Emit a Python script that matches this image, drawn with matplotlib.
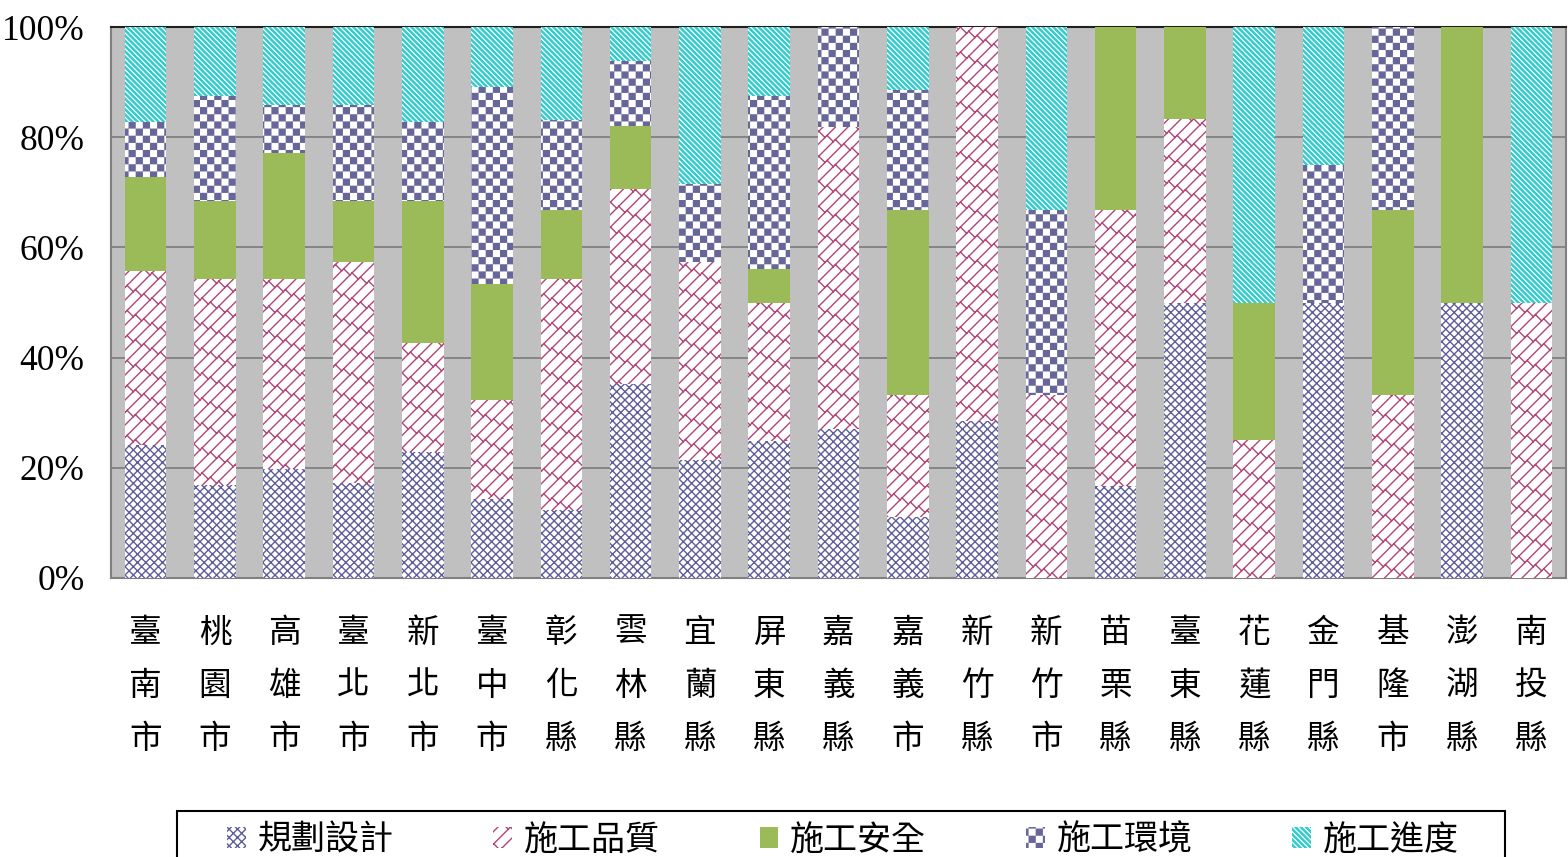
import warnings
warnings.filterwarnings("ignore")
import numpy as np
import matplotlib
matplotlib.use("Agg")
import matplotlib.pyplot as plt
import matplotlib.hatch as mhatch
from matplotlib.path import Path
from matplotlib.patches import Patch, Rectangle

# ---------------- data (percent) ----------------
counties = ["臺南市", "桃園市", "高雄市", "臺北市", "新北市", "臺中市", "彰化縣",
            "雲林縣", "宜蘭縣", "屏東縣", "嘉義縣", "嘉義市", "新竹縣", "新竹市",
            "苗栗縣", "臺東縣", "花蓮縣", "金門縣", "基隆市", "澎湖縣", "南投縣"]
series_names = ["規劃設計", "施工品質", "施工安全", "施工環境", "施工進度"]
planning = [24.1, 16.8, 19.8, 17.3, 22.9, 14.3, 12.3, 35.2, 21.4, 24.9, 27.0,
            11.1, 28.5, 0, 16.7, 50.0, 0, 50.0, 0, 50.0, 0]
quality = [31.7, 37.5, 34.5, 40.1, 19.7, 18.0, 42.0, 35.4, 36.0, 25.0, 54.9,
           22.1, 71.5, 33.3, 50.0, 33.3, 25.0, 0, 33.3, 0, 50.0]
safety = [17.0, 14.1, 22.8, 11.0, 25.8, 21.1, 12.5, 11.4, 0, 6.2, 0,
          33.6, 0, 0, 33.3, 16.7, 25.0, 0, 33.4, 50.0, 0]
environment = [10.0, 19.1, 8.7, 17.4, 14.4, 35.7, 16.3, 11.8, 14.1, 31.4, 18.1,
               21.8, 0, 33.4, 0, 0, 0, 25.0, 33.3, 0, 0]
progress = [17.2, 12.5, 14.2, 14.2, 17.2, 10.9, 16.9, 6.2, 28.5, 12.5, 0,
            11.4, 0, 33.3, 0, 0, 50.0, 25.0, 0, 0, 50.0]
yticks = [0, 20, 40, 60, 80, 100]
ytick_labels = ["0%", "20%", "40%", "60%", "80%", "100%"]


# ---------------- custom hatch patterns ----------------
class CheckerHatch(mhatch.HatchPatternBase):
    def __init__(self, hatch, density):
        self.n = 14 if 'c' in hatch else 0
        if self.n:
            self.cells = [(i, j) for i in range(self.n) for j in range(self.n)
                          if (i + j) % 2 == 0]
            self.num_vertices = len(self.cells) * 5
        else:
            self.num_vertices = 0

    def set_vertices_and_codes(self, vertices, codes):
        s = 1.0 / self.n
        sh = 0.0065
        v, c = [], []
        for i, j in self.cells:
            x0, y0 = i * s + sh, j * s + sh
            x1, y1 = (i + 1) * s - sh, (j + 1) * s - sh
            v += [(x0, y0), (x1, y0), (x1, y1), (x0, y1), (x0, y0)]
            c += [Path.MOVETO, Path.LINETO, Path.LINETO, Path.LINETO, Path.CLOSEPOLY]
        vertices[:] = v
        codes[:] = c


class BrickHatch(mhatch.HatchPatternBase):
    def __init__(self, hatch, density):
        self.on = 'b' in hatch
        self.n, self.m = 8, 6
        self.segs = []
        if self.on:
            n, m = self.n, self.m
            for k in range(-n - 1, n + 2):
                self.segs.append(((-0.2, -0.2 + k / n), (1.2, 1.2 + k / n)))
            for k in range(-2 * n, 2 * n):
                for j in range(-2 * m, 3 * m):
                    t = (j + 0.5 * (k % 2)) / m
                    p = (t, t + k / n)
                    q = (t - 1 / (2 * n), t + k / n + 1 / (2 * n))
                    if -0.2 < p[0] < 1.2 and -0.2 < p[1] < 1.2:
                        self.segs.append((p, q))
        self.num_vertices = len(self.segs) * 2

    def set_vertices_and_codes(self, vertices, codes):
        v, c = [], []
        for p, q in self.segs:
            v += [p, q]
            c += [Path.MOVETO, Path.LINETO]
        vertices[:] = v
        codes[:] = c


class StripeHatch(mhatch.HatchPatternBase):
    def __init__(self, hatch, density):
        self.on = 's' in hatch
        self.n = 19
        self.num_vertices = (2 * self.n + 2) * 5 if self.on else 0

    def set_vertices_and_codes(self, vertices, codes):
        n = self.n
        w = 0.0075
        v, c = [], []
        for k in range(-1, 2 * n + 1):
            c1, c2 = k / n - w, k / n + w
            v += [(-0.2, c1 + 0.2), (1.2, c1 - 1.2), (1.2, c2 - 1.2), (-0.2, c2 + 0.2), (-0.2, c1 + 0.2)]
            c += [Path.MOVETO, Path.LINETO, Path.LINETO, Path.LINETO, Path.CLOSEPOLY]
        vertices[:] = v
        codes[:] = c


mhatch._hatch_types.extend([CheckerHatch, BrickHatch, StripeHatch])

plt.rcParams['hatch.linewidth'] = 1.0

# ---------------- styles ----------------
styles = [
    dict(facecolor="white", edgecolor="#5E5E98", hatch="xxxx"),
    dict(facecolor="white", edgecolor="#B0457A", hatch="b"),
    dict(facecolor="#9BBB59", edgecolor="#9BBB59", hatch=None),
    dict(facecolor="white", edgecolor="#666699", hatch="c"),
    dict(facecolor="white", edgecolor="#33CCCC", hatch="s"),
]

W, H = 1568, 857
fig = plt.figure(figsize=(W / 100, H / 100), dpi=100)
ax = fig.add_axes([111 / W, 1 - 578 / H, (1566 - 111) / W, (578 - 27) / H])
ax.set_facecolor("#C0C0C0")

x = np.arange(len(counties))
data = [planning, quality, safety, environment, progress]
bottom = np.zeros(len(counties))
for name, vals, st in zip(series_names, data, styles):
    vals = np.array(vals, dtype=float)
    ax.bar(x, vals, width=0.6, bottom=bottom, label=name, linewidth=0,
           zorder=3, **st)
    bottom += vals

ax.set_xlim(-0.5, len(counties) - 0.5)
ax.set_ylim(0, 100)
ax.set_yticks(yticks)
ax.set_yticklabels(ytick_labels, fontsize=25.5, family="Liberation Serif")
ax.yaxis.grid(True, color="#808080", linewidth=1.3, zorder=1)
ax.set_axisbelow(True)
ax.tick_params(axis="y", length=0, pad=19)
ax.set_xticks(x)
ax.set_xticklabels(["\n".join(c) for c in counties], fontsize=23.5,
                   family=["Noto Sans CJK TC", "DejaVu Sans"], linespacing=1.85)
ax.tick_params(axis="x", length=0, pad=28)
for s in ["left", "bottom", "right"]:
    ax.spines[s].set_color("#808080")
    ax.spines[s].set_linewidth(1.5)
ax.spines["top"].set_color("#202020")
ax.spines["top"].set_linewidth(1.5)

# legend frame
fig.patches.append(Rectangle((177 / W, -0.05), (1505 - 177) / W, 0.05 + 1 - 811 / H,
                             transform=fig.transFigure, facecolor="white",
                             edgecolor="black", linewidth=1.5, zorder=0))
handles = [Patch(label=n, linewidth=0, **st) for n, st in zip(series_names, styles)]
leg = fig.legend(handles=handles, loc="center left",
                 bbox_to_anchor=(227 / W, 1 - 840 / H), ncol=5, frameon=False,
                 borderpad=0, borderaxespad=0, handlelength=0.55, handleheight=0.55,
                 handletextpad=0.35, columnspacing=2.93,
                 prop=dict(family=["Noto Sans CJK TC", "DejaVu Sans"], size=24.5))

fig.savefig("out.png", dpi=100)
